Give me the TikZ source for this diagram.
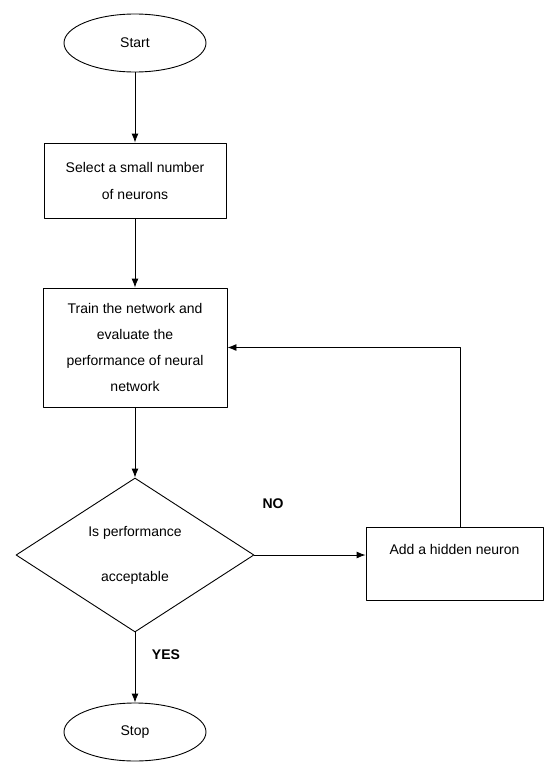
\documentclass[tikz,border=0pt]{standalone}
\usepackage{fontspec}
\setmainfont{Liberation Sans}
\usetikzlibrary{shapes.geometric,arrows.meta}
\begin{document}
\begin{tikzpicture}[x=1pt,y=-1pt,line join=round,line width=0.9pt,>={Latex[length=9pt,width=7pt]},
  term/.style={draw,ellipse,minimum width=142pt,minimum height=58pt,inner sep=0pt,font=\fontsize{14}{16}\selectfont},
  proc/.style={draw,rectangle,inner sep=0pt,align=center},
  decide/.style={draw,diamond,inner sep=0pt,align=center,minimum width=238pt,minimum height=154pt},
  tag/.style={font=\fontsize{14}{16}\bfseries}]
\useasboundingbox (0,0) rectangle (544,763);

    \node[term] (start) at (135,43) {Start};
    \node[proc,minimum width=182pt,minimum height=75pt,font=\fontsize{14}{27}\selectfont] (sel) at (135,180.5) {Select a small number\\of neurons};
    \node[proc,minimum width=184pt,minimum height=119pt,font=\fontsize{14}{26}\selectfont] (train) at (135,347.5) {Train the network and\\evaluate the\\performance of neural\\network};
    \node[decide,font=\fontsize{14}{45}\selectfont] (dec) at (135,555) {Is performance\\acceptable};
    \node[proc,minimum width=177pt,minimum height=73pt,font=\fontsize{14}{22}\selectfont] (add) at (454.5,563.5) {Add a hidden neuron\\\strut};
    \node[term] (stop) at (135,732) {Stop};

    \node[tag] (no) at (273,504) {NO};
    \node[tag] (yes) at (166,655) {YES};

\draw[->](start)--(sel);
\draw[->](sel)--(train);
\draw[->](train)--(dec);
\draw[->](dec.east)--(dec.east-|add.west);
\draw[->](add.north-|460,0)|-(train.east);
\draw[->](dec.south)--(stop.north);
  \end{tikzpicture}
\end{document}
